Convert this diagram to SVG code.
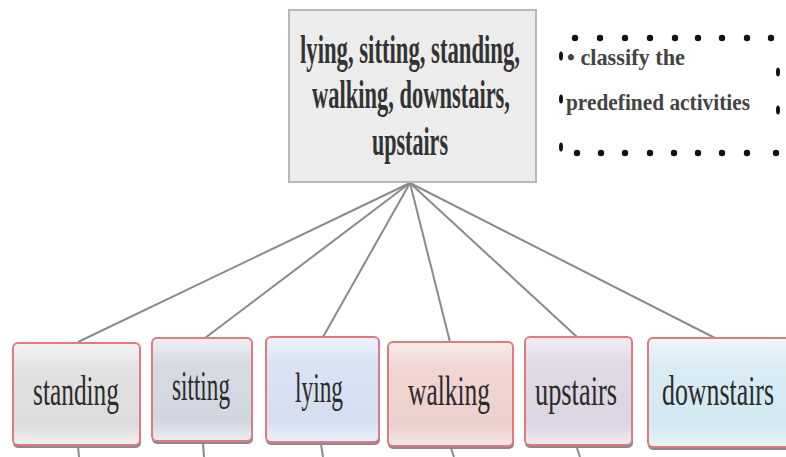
<svg xmlns="http://www.w3.org/2000/svg" width="786" height="457" viewBox="0 0 786 457">
  <defs>
    <linearGradient id="gStanding" x1="0" y1="0" x2="0" y2="1">
      <stop offset="0" stop-color="#f4f4f4"/>
      <stop offset="0.25" stop-color="#e2e2e2"/>
      <stop offset="0.8" stop-color="#dcdcdc"/>
      <stop offset="1" stop-color="#f0f0f0"/>
    </linearGradient>
    <linearGradient id="gSitting" x1="0" y1="0" x2="0" y2="1">
      <stop offset="0" stop-color="#eef0f4"/>
      <stop offset="0.25" stop-color="#d6dae3"/>
      <stop offset="0.8" stop-color="#d2d6e0"/>
      <stop offset="1" stop-color="#eceef2"/>
    </linearGradient>
    <linearGradient id="gLying" x1="0" y1="0" x2="0" y2="1">
      <stop offset="0" stop-color="#eef3fa"/>
      <stop offset="0.25" stop-color="#d9e3f2"/>
      <stop offset="0.8" stop-color="#d4def0"/>
      <stop offset="1" stop-color="#eaf0f8"/>
    </linearGradient>
    <linearGradient id="gWalking" x1="0" y1="0" x2="0" y2="1">
      <stop offset="0" stop-color="#f8ecea"/>
      <stop offset="0.25" stop-color="#f0d6d3"/>
      <stop offset="0.8" stop-color="#ecd0ce"/>
      <stop offset="1" stop-color="#f6e8e6"/>
    </linearGradient>
    <linearGradient id="gUpstairs" x1="0" y1="0" x2="0" y2="1">
      <stop offset="0" stop-color="#f2eef4"/>
      <stop offset="0.25" stop-color="#e0d9e6"/>
      <stop offset="0.8" stop-color="#dcd4e2"/>
      <stop offset="1" stop-color="#f0ecf2"/>
    </linearGradient>
    <linearGradient id="gDownstairs" x1="0" y1="0" x2="0" y2="1">
      <stop offset="0" stop-color="#eef6fa"/>
      <stop offset="0.25" stop-color="#d9ecf4"/>
      <stop offset="0.8" stop-color="#d3e8f2"/>
      <stop offset="1" stop-color="#ebf5f9"/>
    </linearGradient>
  </defs>
  <style>
    .conn { stroke: #8a8a8a; stroke-width: 2; fill: none; }
    .box { stroke: #e07a80; stroke-width: 2; }
    .shadow { fill: #8a8a8a; }
    .lbl { font-family: "Liberation Serif", "DejaVu Serif", serif; font-size: 42px; fill: #2b2b2b; text-anchor: middle; }
    .root { font-family: "Liberation Serif", "DejaVu Serif", serif; font-size: 41px; font-weight: bold; fill: #333; text-anchor: middle; }
    .note { font-family: "Liberation Serif", "DejaVu Serif", serif; font-size: 24px; font-weight: bold; fill: #444; }
    .dot { fill: #111; }
  </style>

  <rect width="786" height="457" fill="#ffffff"/>

  <!-- connectors -->
  <g id="connectors">
    <line class="conn" x1="410" y1="183" x2="78" y2="342"/>
    <line class="conn" x1="410" y1="183" x2="205" y2="338"/>
    <line class="conn" x1="410" y1="183" x2="323" y2="337"/>
    <line class="conn" x1="410" y1="183" x2="450" y2="342"/>
    <line class="conn" x1="410" y1="183" x2="577" y2="337"/>
    <line class="conn" x1="410" y1="183" x2="715" y2="338"/>
    <line class="conn" x1="78" y1="446" x2="79" y2="457"/>
    <line class="conn" x1="203" y1="443" x2="204" y2="457"/>
    <line class="conn" x1="321" y1="444" x2="323" y2="457"/>
    <line class="conn" x1="451" y1="448" x2="454" y2="457"/>
    <line class="conn" x1="577" y1="448" x2="580" y2="457"/>
  </g>

  <!-- root node -->
  <g id="root">
    <rect x="289" y="10" width="247" height="172" fill="#ececec" stroke="#b8b8b8" stroke-width="2"/>
    <text class="root" x="410" y="63" textLength="220" lengthAdjust="spacingAndGlyphs">lying, sitting, standing,</text>
    <text class="root" x="411" y="108" textLength="198" lengthAdjust="spacingAndGlyphs">walking, downstairs,</text>
    <text class="root" x="410" y="155" textLength="76" lengthAdjust="spacingAndGlyphs">upstairs</text>
  </g>

  <!-- note with dotted frame -->
  <g id="note">
    <g class="dot">
      <circle cx="575" cy="38" r="3.2"/><circle cx="600" cy="38" r="3.2"/><circle cx="625" cy="38" r="3.2"/>
      <circle cx="650" cy="38" r="3.2"/><circle cx="675" cy="38" r="3.2"/><circle cx="698" cy="38" r="3.2"/>
      <circle cx="722" cy="38" r="3.2"/><circle cx="747" cy="38" r="3.2"/><circle cx="771" cy="38" r="3.2"/>
      <circle cx="577" cy="153" r="3.2"/><circle cx="601" cy="153" r="3.2"/><circle cx="625" cy="153" r="3.2"/>
      <circle cx="650" cy="153" r="3.2"/><circle cx="674" cy="153" r="3.2"/><circle cx="698" cy="153" r="3.2"/>
      <circle cx="722" cy="153" r="3.2"/><circle cx="747" cy="153" r="3.2"/><circle cx="776" cy="153" r="3.2"/>
      <ellipse cx="561" cy="56" rx="2" ry="4.5"/>
      <ellipse cx="561" cy="99" rx="2" ry="4.5"/>
      <ellipse cx="561" cy="147" rx="2" ry="4.5"/>
      <ellipse cx="778" cy="72" rx="2" ry="4.5"/>
      <ellipse cx="778" cy="110" rx="2" ry="4.5"/>
    </g>
    <text class="note" x="567" y="65" textLength="118" lengthAdjust="spacingAndGlyphs">• classify the</text>
    <text class="note" x="566" y="110" textLength="184" lengthAdjust="spacingAndGlyphs">predefined activities</text>
  </g>

  <!-- leaf nodes -->
  <g id="standing">
    <rect class="shadow" x="13" y="345" width="128" height="103" rx="5"/>
    <rect class="box" x="13" y="343" width="127" height="102" rx="5" fill="url(#gStanding)"/>
    <text class="lbl" x="76" y="405" textLength="86" lengthAdjust="spacingAndGlyphs">standing</text>
  </g>
  <g id="sitting">
    <rect class="shadow" x="152" y="340" width="101" height="104" rx="5"/>
    <rect class="box" x="152" y="338" width="100" height="103" rx="5" fill="url(#gSitting)"/>
    <text class="lbl" x="201" y="400" textLength="58" lengthAdjust="spacingAndGlyphs">sitting</text>
  </g>
  <g id="lying">
    <rect class="shadow" x="266" y="339" width="114" height="106" rx="5"/>
    <rect class="box" x="266" y="337" width="113" height="105" rx="5" fill="url(#gLying)"/>
    <text class="lbl" x="319" y="402" textLength="48" lengthAdjust="spacingAndGlyphs">lying</text>
  </g>
  <g id="walking">
    <rect class="shadow" x="388" y="344" width="126" height="105" rx="5"/>
    <rect class="box" x="388" y="342" width="125" height="104" rx="5" fill="url(#gWalking)"/>
    <text class="lbl" x="449" y="405" textLength="82" lengthAdjust="spacingAndGlyphs">walking</text>
  </g>
  <g id="upstairs">
    <rect class="shadow" x="525" y="339" width="108" height="109" rx="5"/>
    <rect class="box" x="525" y="337" width="107" height="108" rx="5" fill="url(#gUpstairs)"/>
    <text class="lbl" x="576" y="405" textLength="82" lengthAdjust="spacingAndGlyphs">upstairs</text>
  </g>
  <g id="downstairs">
    <rect class="shadow" x="648" y="340" width="150" height="110" rx="5"/>
    <rect class="box" x="648" y="338" width="150" height="109" rx="5" fill="url(#gDownstairs)"/>
    <text class="lbl" x="718" y="405" textLength="112" lengthAdjust="spacingAndGlyphs">downstairs</text>
  </g>
</svg>
